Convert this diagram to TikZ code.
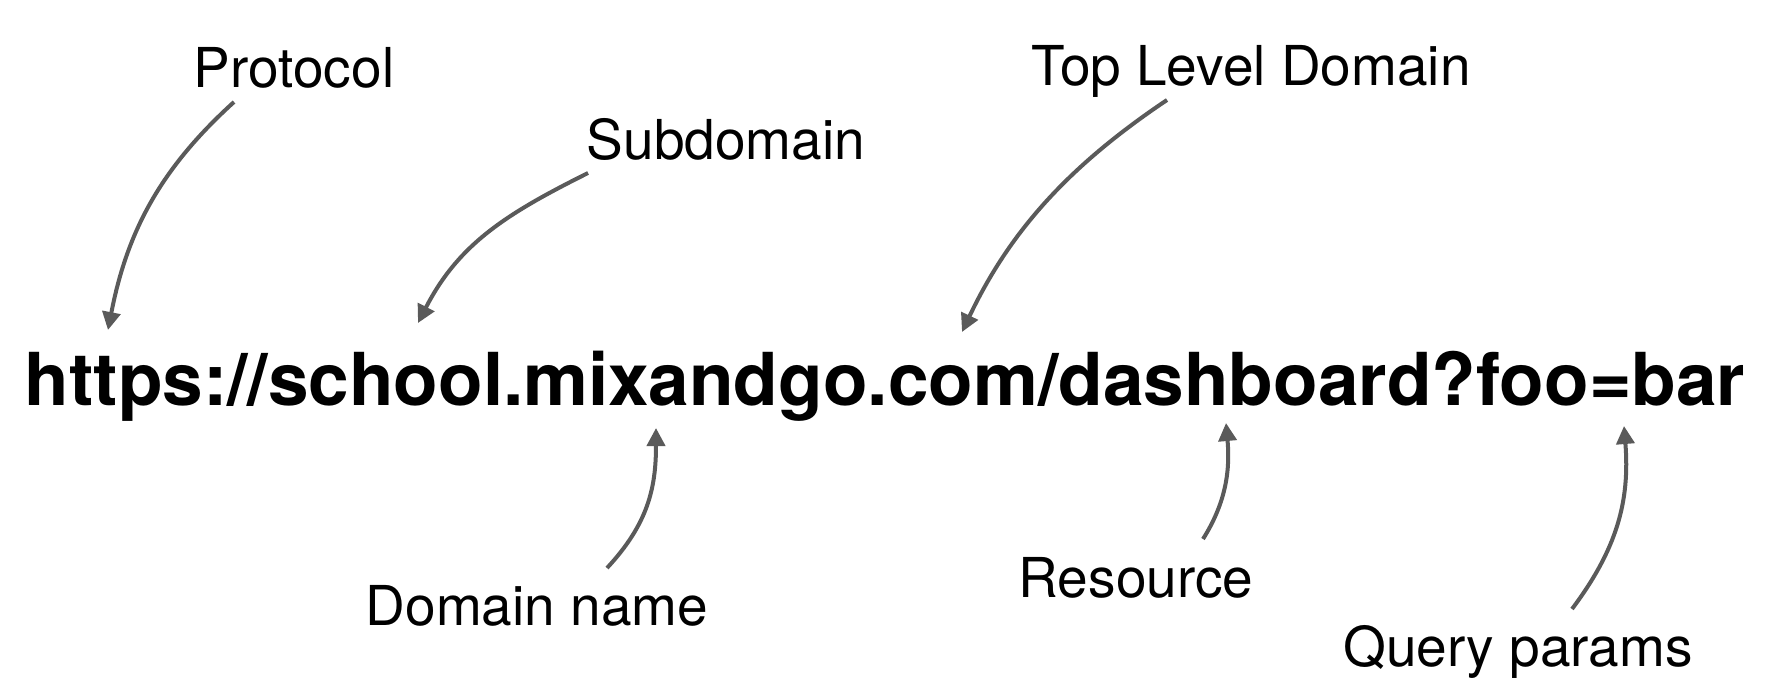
\documentclass[tikz,border=0pt]{standalone}
\usepackage{fontspec}
\setmainfont{TeX Gyre Heros}
\usetikzlibrary{arrows.meta}
\definecolor{arrowgray}{HTML}{5A5A5A}
\begin{document}
\begin{tikzpicture}[x=1pt,y=-1pt,
  lbl/.style={anchor=base,inner sep=0pt,font=\fontsize{55}{60}\selectfont},
  url/.style={anchor=base,inner sep=0pt,font=\fontsize{73}{80}\selectfont\bfseries},
  pointer/.style={draw=arrowgray,line width=4pt,-{Triangle[length=18pt,width=18pt]},fill=none}]
\useasboundingbox (0,0) rectangle (1770,696);
\node[url] (urltext) at (885,405) {https://school.mixandgo.com/dashboard?foo=bar};
\node[lbl] (protocol) at (294,87) {Protocol};
\node[lbl] (subdomain) at (726,159) {Subdomain};
\node[lbl] (tld) at (1251,85) {Top Level Domain};
\node[lbl] (domain) at (537,625) {Domain name};
\node[lbl] (resource) at (1136,597) {Resource};
\node[lbl] (query) at (1518,666) {Query params};
% arrow endpoints
\coordinate (pS) at (234,102); \coordinate (pE) at (108,330);
\coordinate (sS) at (588,173); \coordinate (sE) at (418,323);
\coordinate (tS) at (1167,100); \coordinate (tE) at (962,332);
\coordinate (dS) at (607,568); \coordinate (dE) at (656,428);
\coordinate (rS) at (1203,539); \coordinate (rE) at (1226,423);
\coordinate (qS) at (1572,609); \coordinate (qE) at (1624,426);
\draw[pointer] (pS) .. controls (160,169) and (127,232) .. (pE);
\draw[pointer] (sS) .. controls (508,213) and (459,243) .. (sE);
\draw[pointer] (tS) .. controls (1067,167) and (1009,233) .. (tE);
\draw[pointer] (dS) .. controls (648,524) and (656,488) .. (dE);
\draw[pointer] (rS) .. controls (1227,501) and (1230,468) .. (rE);
\draw[pointer] (qS) .. controls (1617,549) and (1630,501) .. (qE);
\end{tikzpicture}
\end{document}
